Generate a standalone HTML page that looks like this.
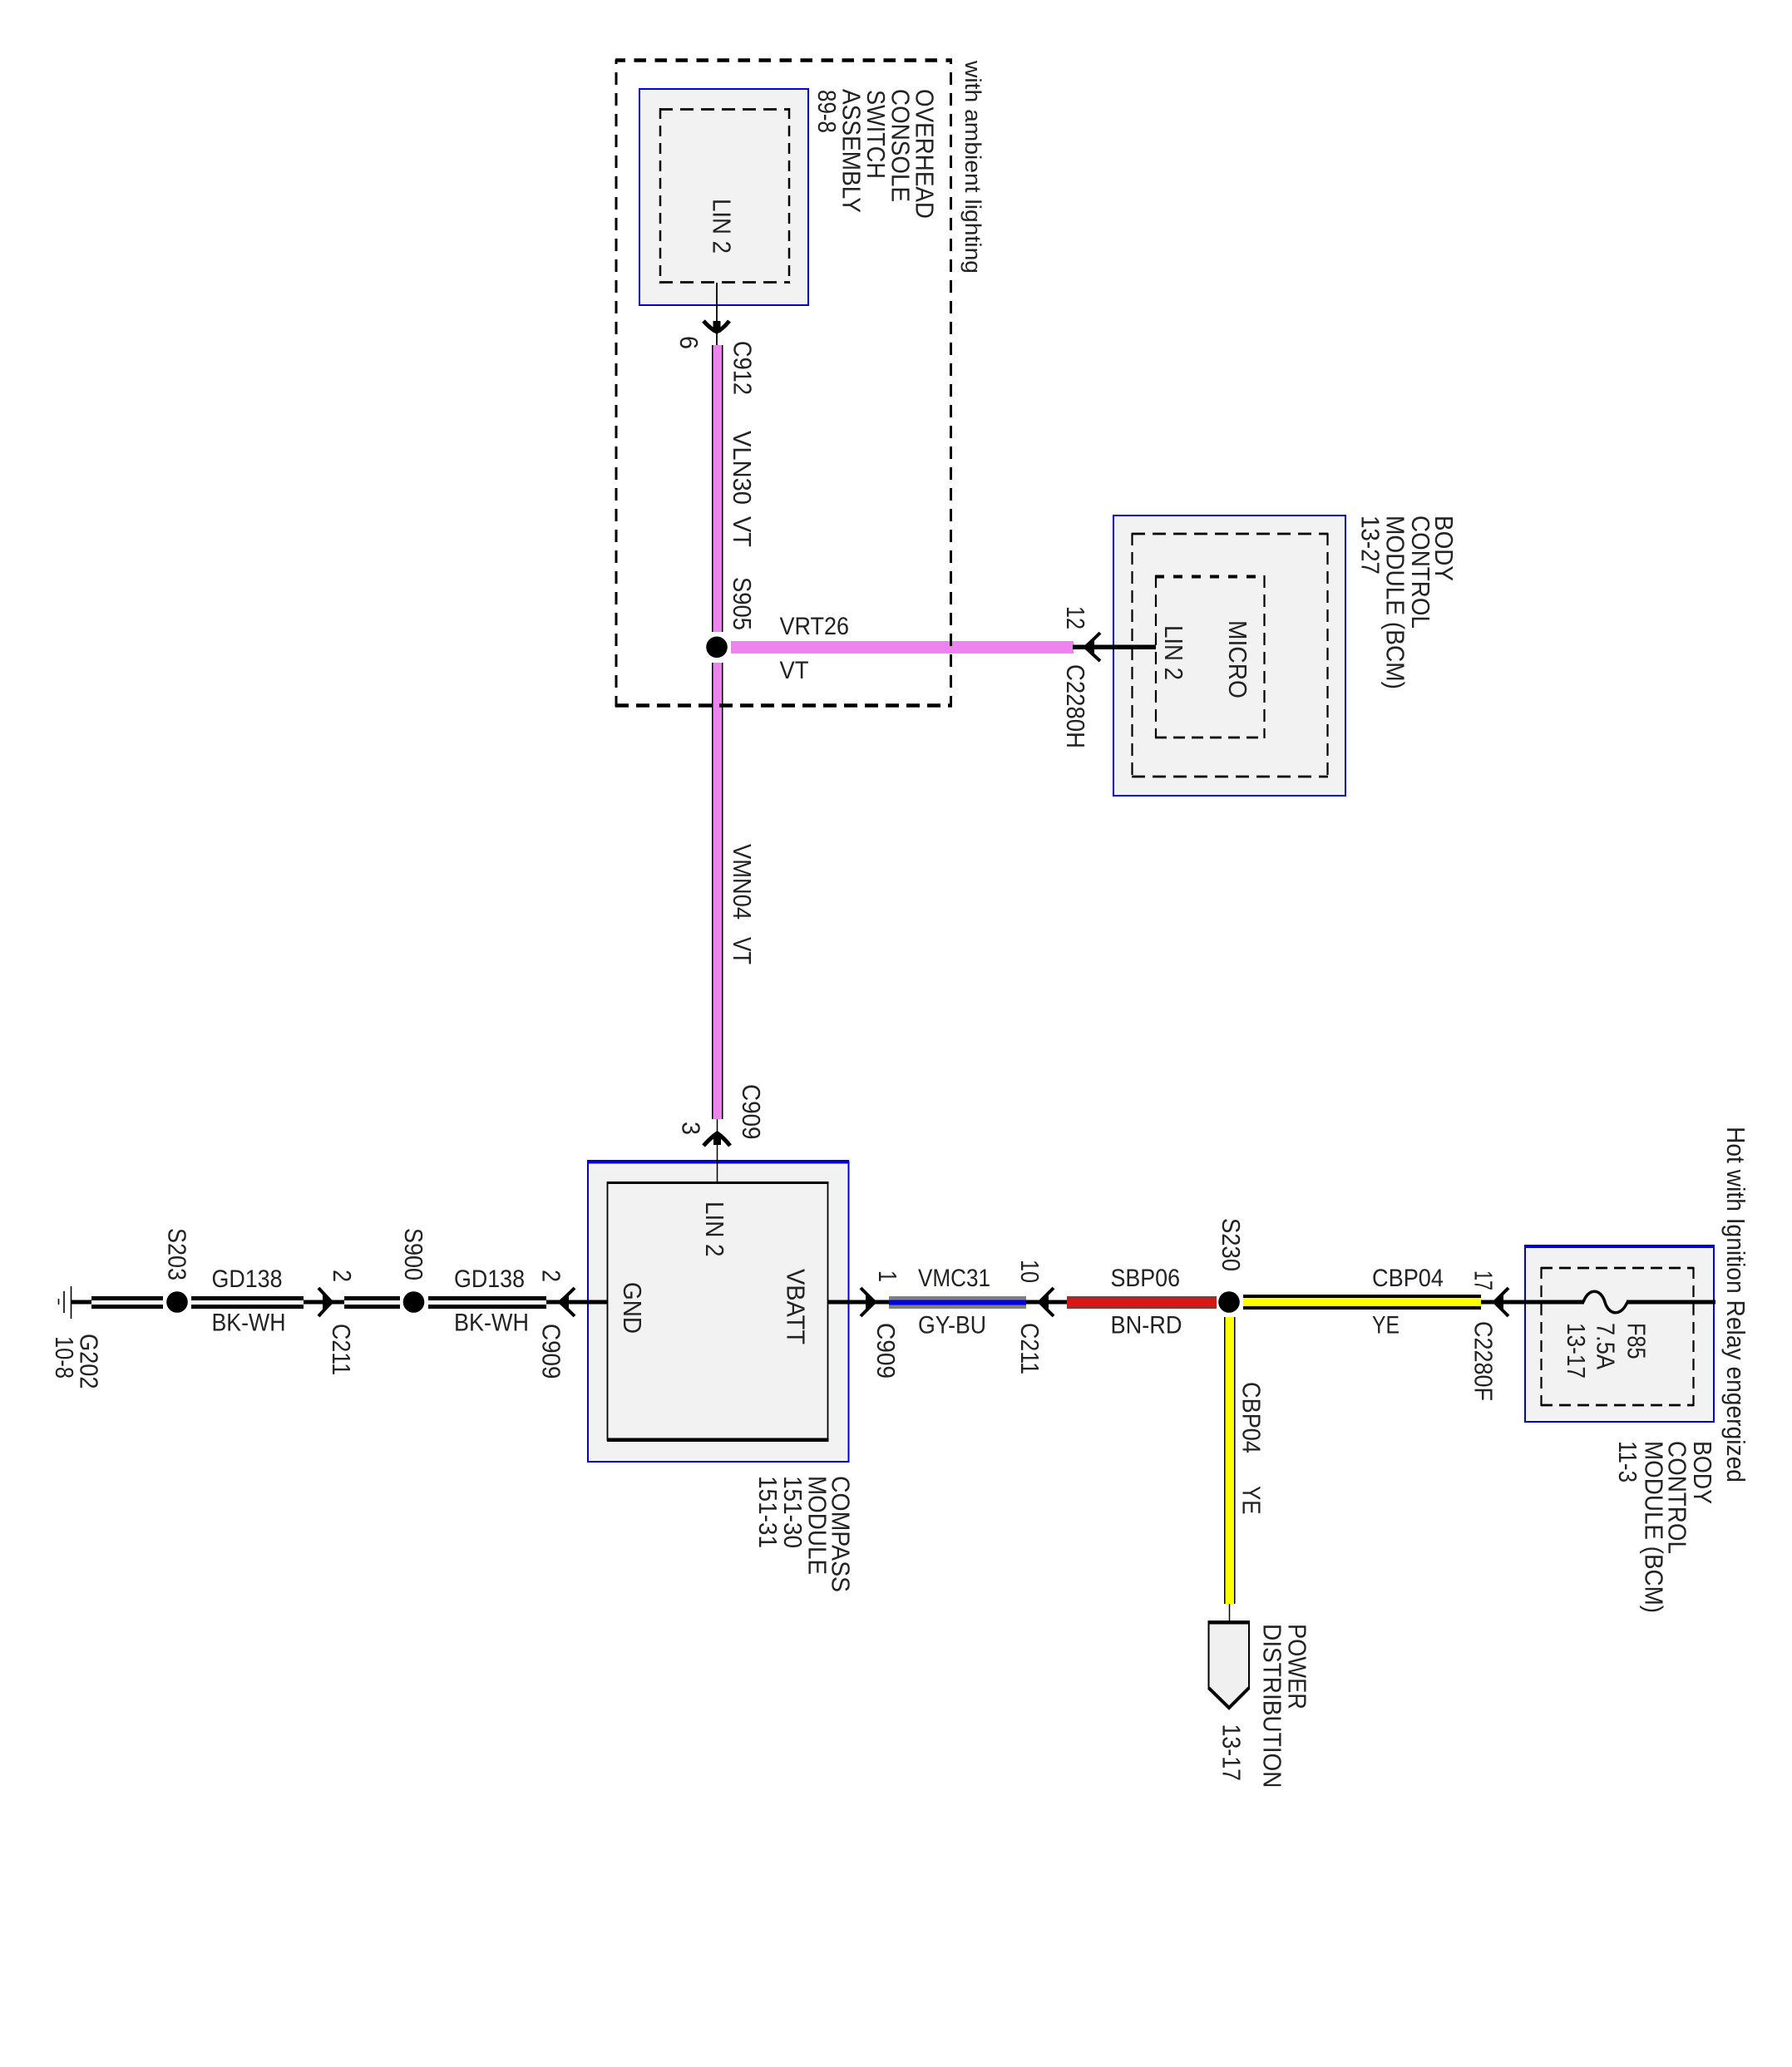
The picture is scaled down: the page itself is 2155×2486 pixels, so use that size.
<!DOCTYPE html>
<html><head><meta charset="utf-8"><style>
html,body{margin:0;padding:0;background:#fff}
svg{display:block}
text{font-family:"Liberation Sans",sans-serif;font-size:30px;fill:#222}
.r text{font-size:31px}
.r text.s{font-size:27px}
</style></head><body>
<svg width="2155" height="2486" viewBox="0 0 2155 2486" xmlns="http://www.w3.org/2000/svg">
<rect width="2155" height="2486" fill="#fff"/>

<!-- boxes -->
<rect x="769" y="107" width="203" height="260" fill="#f2f2f2" stroke="#0000d0" stroke-width="2"/>
<rect x="1339" y="620" width="279" height="337" fill="#f2f2f2" stroke="#0000d0" stroke-width="2"/>
<rect x="707" y="1397" width="313.5" height="361" fill="#f2f2f2" stroke="#0000d0" stroke-width="2"/>
<rect x="706" y="1395" width="315" height="4.5" fill="#0000d0"/>
<rect x="1834" y="1499" width="227" height="211" fill="#f2f2f2" stroke="#0000d0" stroke-width="2"/>
<rect x="1833" y="1497" width="229" height="4" fill="#0000d0"/>

<!-- compass inner -->
<rect x="730.5" y="1422" width="265" height="310" fill="none" stroke="#000" stroke-width="1.8"/>
<rect x="730" y="1421" width="266.5" height="3" fill="#000"/>
<rect x="730" y="1729.5" width="266.5" height="4.5" fill="#000"/>

<!-- wires: vertical violet -->
<rect x="856" y="415" width="13.5" height="345" fill="#000"/>
<rect x="857.5" y="415" width="10.5" height="345" fill="#ee82ee"/>
<rect x="856" y="797" width="13.5" height="549" fill="#000"/>
<rect x="857.5" y="797" width="10.5" height="549" fill="#ee82ee"/>
<!-- horizontal violet -->
<rect x="879" y="771" width="412" height="15" fill="#ee82ee"/>

<!-- outer dashed -->
<g fill="none" stroke="#000">
<line x1="740" y1="72.5" x2="1145" y2="72.5" stroke-width="4.5" stroke-dasharray="14.5 10.5" stroke-dashoffset="2.5"/>
<line x1="740" y1="848.5" x2="1145" y2="848.5" stroke-width="4.5" stroke-dasharray="16 9"/>
<line x1="741" y1="72" x2="741" y2="850" stroke-width="3" stroke-dasharray="15 10" stroke-dashoffset="10"/>
<line x1="1143.5" y1="72" x2="1143.5" y2="850" stroke-width="3" stroke-dasharray="15 10" stroke-dashoffset="10"/>
<!-- overhead inner -->
<line x1="793" y1="131.5" x2="950" y2="131.5" stroke-width="2.7" stroke-dasharray="16 9"/>
<line x1="793" y1="339.5" x2="950" y2="339.5" stroke-width="2.7" stroke-dasharray="16 9"/>
<line x1="794" y1="130" x2="794" y2="341" stroke-width="2.5" stroke-dasharray="13 8"/>
<line x1="949" y1="130" x2="949" y2="341" stroke-width="2.5" stroke-dasharray="13 8"/>
<!-- bcm outer dashed -->
<line x1="1361" y1="642" x2="1597" y2="642" stroke-width="2.7" stroke-dasharray="16 9"/>
<line x1="1361" y1="934" x2="1597" y2="934" stroke-width="2.7" stroke-dasharray="16 9"/>
<line x1="1361.5" y1="641" x2="1361.5" y2="935" stroke-width="2.2" stroke-dasharray="15 8"/>
<line x1="1596.5" y1="641" x2="1596.5" y2="935" stroke-width="2.2" stroke-dasharray="15 8"/>
<!-- micro -->
<line x1="1389" y1="693.5" x2="1521" y2="693.5" stroke-width="4" stroke-dasharray="11 11"/>
<line x1="1389" y1="887" x2="1521" y2="887" stroke-width="2.7" stroke-dasharray="14 8"/>
<line x1="1390" y1="692" x2="1390" y2="888" stroke-width="2.2" stroke-dasharray="15 8"/>
<line x1="1520.5" y1="692" x2="1520.5" y2="888" stroke-width="2.2" stroke-dasharray="15 8"/>
<!-- f85 dashed -->
<line x1="1853" y1="1525" x2="2037" y2="1525" stroke-width="2.7" stroke-dasharray="14 8"/>
<line x1="1853" y1="1690" x2="2037" y2="1690" stroke-width="2.7" stroke-dasharray="14 8"/>
<line x1="1853.5" y1="1524" x2="1853.5" y2="1691" stroke-width="2.2" stroke-dasharray="14 8"/>
<line x1="2036.5" y1="1524" x2="2036.5" y2="1691" stroke-width="2.2" stroke-dasharray="14 8"/>
</g>

<!-- thin stems -->
<line x1="862" y1="340" x2="862" y2="415" stroke="#000" stroke-width="1.8"/>
<line x1="862.5" y1="1346" x2="862.5" y2="1422" stroke="#000" stroke-width="1.5"/>
<!-- top arrows -->
<path d="M846 386 Q855 396 862 399 Q869 396 877 386" fill="none" stroke="#000" stroke-width="5"/>
<rect x="857.5" y="386" width="9" height="14" fill="#000"/>
<path d="M846 1378 Q855 1368 862.5 1363 Q870 1368 878 1378" fill="none" stroke="#000" stroke-width="5"/>
<rect x="858" y="1364" width="9" height="13" fill="#000"/>

<!-- black main horizontals -->
<g fill="#000">
<rect x="1290" y="775.5" width="100" height="5.5"/>
<rect x="85" y="1563.5" width="25" height="5"/>
<rect x="365" y="1563.5" width="50" height="5"/>
<rect x="657" y="1563.5" width="73" height="5"/>
<rect x="996" y="1563.5" width="73" height="5"/>
<rect x="1234" y="1563.5" width="49" height="5"/>
<rect x="1781" y="1563.5" width="124" height="5"/>
<rect x="1956" y="1563.5" width="107" height="5"/>
</g>
<path d="M1904 1566 C1910 1549 1925 1549 1930 1566 C1935 1583 1950 1583 1957 1566" fill="none" stroke="#000" stroke-width="3.5"/>

<!-- left-pointing / right-pointing arrows -->
<g fill="none" stroke="#000" stroke-width="4">
<path d="M1323 761 Q1312 772 1305 778.3 Q1312 785 1323 795"/>
<path d="M383 1549 Q393 1560 399 1566 Q393 1572 383 1583"/>
<path d="M691 1549 Q680 1560 673 1566 Q680 1572 691 1583"/>
<path d="M1035 1549 Q1046 1560 1052 1566 Q1046 1572 1035 1583"/>
<path d="M1267 1549 Q1256 1560 1250 1566 Q1256 1572 1267 1583"/>
<path d="M1814 1549 Q1803 1560 1797 1566 Q1803 1572 1814 1583"/>
</g>
<g fill="#000">
<path d="M1303 778.3 L1316 768 L1316 789Z"/>
<path d="M401 1566 L388 1556 L388 1576Z"/>
<path d="M671 1566 L684 1556 L684 1576Z"/>
<path d="M1054 1566 L1041 1556 L1041 1576Z"/>
<path d="M1248 1566 L1261 1556 L1261 1576Z"/>
<path d="M1795 1566 L1808 1556 L1808 1576Z"/>
</g>

<!-- black-white wires -->
<g fill="#000">
<rect x="110" y="1559" width="86" height="15"/>
<rect x="230" y="1559" width="135" height="15"/>
<rect x="414" y="1559" width="67" height="15"/>
<rect x="515" y="1559" width="142" height="15"/>
</g>
<g fill="#fff">
<rect x="110" y="1564" width="86" height="5"/>
<rect x="230" y="1564" width="135" height="5"/>
<rect x="414" y="1564" width="67" height="5"/>
<rect x="515" y="1564" width="142" height="5"/>
</g>

<!-- VMC31 -->
<rect x="1069" y="1559" width="165" height="15" fill="#808080"/>
<rect x="1069" y="1563.5" width="165" height="6" fill="#0000e0"/>
<!-- SBP06 -->
<rect x="1283" y="1559" width="180" height="15" fill="#a52a2a"/>
<rect x="1283" y="1563" width="180" height="7" fill="#e81010"/>
<!-- CBP04 -->
<rect x="1495" y="1557" width="286" height="18" fill="#000"/>
<rect x="1495" y="1561" width="286" height="10" fill="#ffff00"/>
<!-- CBP04 vertical -->
<rect x="1472" y="1584" width="13.5" height="345" fill="#000"/>
<rect x="1473.5" y="1584" width="10.5" height="345" fill="#ffff00"/>
<line x1="1478.5" y1="1929" x2="1478.5" y2="1950" stroke="#000" stroke-width="1.5"/>

<!-- stub -->
<path d="M1453.5 1951 L1453.5 2030 L1478 2054 L1502 2030 L1502 1951Z" fill="#f0f0f0" stroke="#000" stroke-width="2"/>
<path d="M1453.5 2030 L1478 2054 L1502 2030" fill="none" stroke="#000" stroke-width="4"/>
<rect x="1452.5" y="1949" width="50.5" height="4.5" fill="#000"/>

<!-- splices -->
<g fill="#000">
<circle cx="862" cy="778.3" r="12.8"/>
<circle cx="213" cy="1566" r="12.8"/>
<circle cx="497.5" cy="1566" r="12.8"/>
<circle cx="1478" cy="1566" r="12.8"/>
</g>

<!-- ground -->
<g stroke="#000" stroke-width="1.6">
<line x1="85.5" y1="1547" x2="85.5" y2="1586"/>
<line x1="77" y1="1553" x2="77" y2="1579"/>
<line x1="70.5" y1="1562" x2="70.5" y2="1569"/>
</g>

<!-- horizontal labels -->
<g>
<text x="937.5" y="763" textLength="83.5" lengthAdjust="spacingAndGlyphs">VRT26</text>
<text x="937.5" y="816" textLength="35" lengthAdjust="spacingAndGlyphs">VT</text>
<text x="254.5" y="1548" textLength="85" lengthAdjust="spacingAndGlyphs">GD138</text>
<text x="254.5" y="1600.5" textLength="89" lengthAdjust="spacingAndGlyphs">BK-WH</text>
<text x="546" y="1548" textLength="85" lengthAdjust="spacingAndGlyphs">GD138</text>
<text x="546" y="1600.5" textLength="90" lengthAdjust="spacingAndGlyphs">BK-WH</text>
<text x="1104" y="1547" textLength="87" lengthAdjust="spacingAndGlyphs">VMC31</text>
<text x="1104" y="1603.5" textLength="82" lengthAdjust="spacingAndGlyphs">GY-BU</text>
<text x="1335.5" y="1547" textLength="83.5" lengthAdjust="spacingAndGlyphs">SBP06</text>
<text x="1335.5" y="1603.5" textLength="86" lengthAdjust="spacingAndGlyphs">BN-RD</text>
<text x="1650" y="1547" textLength="86" lengthAdjust="spacingAndGlyphs">CBP04</text>
<text x="1650" y="1603.5" textLength="33" lengthAdjust="spacingAndGlyphs">YE</text>
</g>

<!-- rotated labels -->
<g class="r" transform="translate(1 0)">
<text class="s" transform="translate(1160 73) rotate(90)" textLength="256" lengthAdjust="spacingAndGlyphs">with ambient lighting</text>
<text transform="translate(1100.5 107) rotate(90)" textLength="156" lengthAdjust="spacingAndGlyphs">OVERHEAD</text>
<text transform="translate(1071.5 107) rotate(90)" textLength="136" lengthAdjust="spacingAndGlyphs">CONSOLE</text>
<text transform="translate(1042 108) rotate(90)" textLength="107" lengthAdjust="spacingAndGlyphs">SWITCH</text>
<text transform="translate(1012.5 107) rotate(90)" textLength="149" lengthAdjust="spacingAndGlyphs">ASSEMBLY</text>
<text transform="translate(983 108) rotate(90)" textLength="52" lengthAdjust="spacingAndGlyphs">89-8</text>
<text transform="translate(856.5 239) rotate(90)" textLength="66" lengthAdjust="spacingAndGlyphs">LIN 2</text>
<text transform="translate(817 404) rotate(90)" textLength="16" lengthAdjust="spacingAndGlyphs">6</text>
<text transform="translate(881.5 410) rotate(90)" textLength="65" lengthAdjust="spacingAndGlyphs">C912</text>
<text transform="translate(881 518) rotate(90)" textLength="89" lengthAdjust="spacingAndGlyphs">VLN30</text>
<text transform="translate(881 621) rotate(90)" textLength="37" lengthAdjust="spacingAndGlyphs">VT</text>
<text transform="translate(881 694) rotate(90)" textLength="64" lengthAdjust="spacingAndGlyphs">S905</text>
<text transform="translate(881 1015) rotate(90)" textLength="91" lengthAdjust="spacingAndGlyphs">VMN04</text>
<text transform="translate(881 1127) rotate(90)" textLength="33" lengthAdjust="spacingAndGlyphs">VT</text>

<text transform="translate(1282 729) rotate(90)" textLength="28" lengthAdjust="spacingAndGlyphs">12</text>
<text transform="translate(1282 799) rotate(90)" textLength="101" lengthAdjust="spacingAndGlyphs">C2280H</text>
<text transform="translate(1400 752) rotate(90)" textLength="66" lengthAdjust="spacingAndGlyphs">LIN 2</text>
<text transform="translate(1477 746) rotate(90)" textLength="94" lengthAdjust="spacingAndGlyphs">MICRO</text>
<text transform="translate(1725 620) rotate(90)" textLength="79" lengthAdjust="spacingAndGlyphs">BODY</text>
<text transform="translate(1697 620) rotate(90)" textLength="136" lengthAdjust="spacingAndGlyphs">CONTROL</text>
<text transform="translate(1666.5 620) rotate(90)" textLength="209" lengthAdjust="spacingAndGlyphs">MODULE (BCM)</text>
<text transform="translate(1636.5 620) rotate(90)" textLength="71" lengthAdjust="spacingAndGlyphs">13-27</text>

<text transform="translate(892 1304) rotate(90)" textLength="66.5" lengthAdjust="spacingAndGlyphs">C909</text>
<text transform="translate(819.5 1349) rotate(90)" textLength="16" lengthAdjust="spacingAndGlyphs">3</text>
<text transform="translate(848 1445) rotate(90)" textLength="66.5" lengthAdjust="spacingAndGlyphs">LIN 2</text>
<text transform="translate(749 1542) rotate(90)" textLength="62" lengthAdjust="spacingAndGlyphs">GND</text>
<text transform="translate(945.5 1526) rotate(90)" textLength="91" lengthAdjust="spacingAndGlyphs">VBATT</text>

<text transform="translate(999.5 1775) rotate(90)" textLength="140" lengthAdjust="spacingAndGlyphs">COMPASS</text>
<text transform="translate(971.5 1775) rotate(90)" textLength="119" lengthAdjust="spacingAndGlyphs">MODULE</text>
<text transform="translate(942 1775) rotate(90)" textLength="87" lengthAdjust="spacingAndGlyphs">151-30</text>
<text transform="translate(912 1775) rotate(90)" textLength="87" lengthAdjust="spacingAndGlyphs">151-31</text>

<text transform="translate(201.5 1477) rotate(90)" textLength="63" lengthAdjust="spacingAndGlyphs">S203</text>
<text transform="translate(400 1527) rotate(90)" textLength="15" lengthAdjust="spacingAndGlyphs">2</text>
<text transform="translate(399 1592) rotate(90)" textLength="62" lengthAdjust="spacingAndGlyphs">C211</text>
<text transform="translate(486 1477) rotate(90)" textLength="63" lengthAdjust="spacingAndGlyphs">S900</text>
<text transform="translate(651.5 1527) rotate(90)" textLength="15" lengthAdjust="spacingAndGlyphs">2</text>
<text transform="translate(651.5 1592) rotate(90)" textLength="66.5" lengthAdjust="spacingAndGlyphs">C909</text>
<text transform="translate(95.5 1604) rotate(90)" textLength="66.5" lengthAdjust="spacingAndGlyphs">G202</text>
<text transform="translate(66 1607) rotate(90)" textLength="51" lengthAdjust="spacingAndGlyphs">10-8</text>

<text transform="translate(2076 1355) rotate(90)" textLength="428" lengthAdjust="spacingAndGlyphs">Hot with Ignition Relay engergized</text>
<text transform="translate(1056 1528) rotate(90)" textLength="14" lengthAdjust="spacingAndGlyphs">1</text>
<text transform="translate(1227 1515) rotate(90)" textLength="28" lengthAdjust="spacingAndGlyphs">10</text>
<text transform="translate(1054 1591) rotate(90)" textLength="67" lengthAdjust="spacingAndGlyphs">C909</text>
<text transform="translate(1227 1591) rotate(90)" textLength="62" lengthAdjust="spacingAndGlyphs">C211</text>
<text transform="translate(1469 1465) rotate(90)" textLength="64" lengthAdjust="spacingAndGlyphs">S230</text>
<text transform="translate(1772.5 1528) rotate(90)" textLength="24" lengthAdjust="spacingAndGlyphs">17</text>
<text transform="translate(1772.5 1589) rotate(90)" textLength="96" lengthAdjust="spacingAndGlyphs">C2280F</text>
<text transform="translate(1956.5 1591) rotate(90)" textLength="43.5" lengthAdjust="spacingAndGlyphs">F85</text>
<text transform="translate(1919.5 1591) rotate(90)" textLength="56" lengthAdjust="spacingAndGlyphs">7.5A</text>
<text transform="translate(1884 1591) rotate(90)" textLength="67" lengthAdjust="spacingAndGlyphs">13-17</text>
<text transform="translate(2036 1733) rotate(90)" textLength="76" lengthAdjust="spacingAndGlyphs">BODY</text>
<text transform="translate(2005.5 1733) rotate(90)" textLength="136" lengthAdjust="spacingAndGlyphs">CONTROL</text>
<text transform="translate(1977.5 1733) rotate(90)" textLength="207" lengthAdjust="spacingAndGlyphs">MODULE (BCM)</text>
<text transform="translate(1946 1733) rotate(90)" textLength="50" lengthAdjust="spacingAndGlyphs">11-3</text>
<text transform="translate(1493.5 1662) rotate(90)" textLength="86" lengthAdjust="spacingAndGlyphs">CBP04</text>
<text transform="translate(1493.5 1787) rotate(90)" textLength="34.5" lengthAdjust="spacingAndGlyphs">YE</text>
<text transform="translate(1548.5 1953) rotate(90)" textLength="103" lengthAdjust="spacingAndGlyphs">POWER</text>
<text transform="translate(1518.5 1953) rotate(90)" textLength="197.5" lengthAdjust="spacingAndGlyphs">DISTRIBUTION</text>
<text transform="translate(1469.5 2073.5) rotate(90)" textLength="68.5" lengthAdjust="spacingAndGlyphs">13-17</text>
</g>
</svg>
</body></html>
